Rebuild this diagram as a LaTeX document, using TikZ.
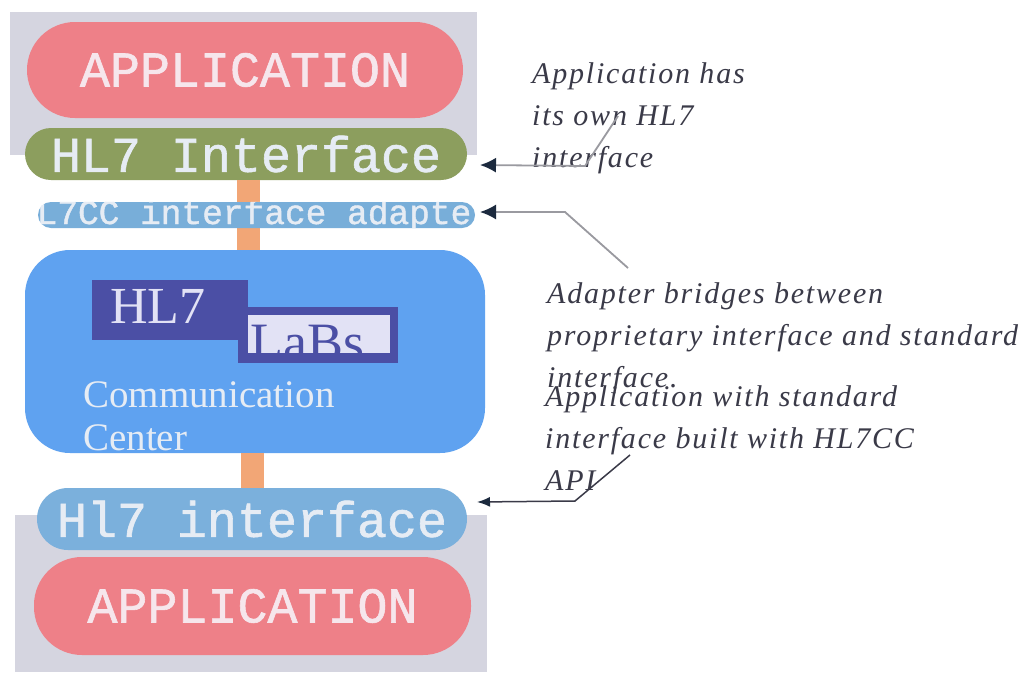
\documentclass[tikz,border=0pt]{standalone}
\usepackage{fontspec}
\setmainfont{Liberation Serif}
\setmonofont[FakeBold=1.2]{Liberation Mono}
\newfontfamily\notefont[LetterSpace=6]{Liberation Serif}
\usetikzlibrary{arrows.meta}

\definecolor{graybg}{HTML}{D5D5E0}
\definecolor{appred}{HTML}{EE8088}
\definecolor{apptxt}{HTML}{F6E6EC}
\definecolor{hlgreen}{HTML}{8C9E5E}
\definecolor{adaptblue}{HTML}{78AED9}
\definecolor{ccblue}{HTML}{5FA2F0}
\definecolor{labsdark}{HTML}{4B4FA5}
\definecolor{labslight}{HTML}{E2E2F5}
\definecolor{barorange}{HTML}{F2A676}
\definecolor{hlblue}{HTML}{7BB0DC}
\definecolor{lighttxt}{HTML}{E6ECF4}
\definecolor{notegray}{HTML}{3A3A48}
\definecolor{linegray}{HTML}{9A9AA0}
\definecolor{arrownavy}{HTML}{1C2A3E}

\begin{document}
\begin{tikzpicture}[x=1pt, y=-1pt,
    pill/.style={rounded corners=#1, inner sep=0pt},
    bigmono/.style={font=\ttfamily\fontsize{50}{50}\selectfont},
    nota/.style={font=\notefont\itshape\fontsize{30}{42}\selectfont, text=notegray,
        align=left, inner sep=0pt, anchor=base west},
    tip/.style={-{Latex[length=16pt,width=15pt,color=arrownavy]}, draw=linegray, line width=1.8pt},
    bar/.style={draw=barorange, line width=23pt}]

    % Marco de la figura
    \useasboundingbox[fill=white] (0,0) rectangle (1028,672);

    % Fondos grises de las aplicaciones
    \fill[graybg] (10,12) rectangle (477,155);
    \fill[graybg] (15,515) rectangle (487,672);

    % Aplicacion superior y su interfaz propia
    \node[pill=48pt, fill=appred, minimum width=436pt, minimum height=96pt,
        bigmono, text=apptxt] (apptop) at (245,70) {APPLICATION};
    \node[pill=26pt, fill=hlgreen, minimum width=442pt, minimum height=52pt,
        bigmono, text=lighttxt] (hltop) at (246,154) {HL7 Interface};

    % Centro de comunicacion
    \node[pill=45pt, fill=ccblue, minimum width=460pt, minimum height=203pt] (cc) at (255,351.5) {};

    % Aplicacion inferior con interfaz estandar
    \node[pill=31pt, fill=hlblue, minimum width=430pt, minimum height=62pt,
        bigmono, text=lighttxt] (hlbot) at (252,519) {Hl7 interface};
    \node[pill=48pt, fill=appred, minimum width=437pt, minimum height=98pt,
        bigmono, text=apptxt] (appbot) at (252.5,606) {APPLICATION};

    % Barras de union
    \draw[bar] ([xshift=2pt]hltop.south) -- ([xshift=2pt]hltop.south |- cc.north);
    \draw[bar] ([xshift=-3pt]cc.south) -- ([xshift=-3pt]cc.south |- hlbot.north);

    % Adaptador (texto recortado por la pastilla)
    \node[pill=13pt, fill=adaptblue, minimum width=437pt, minimum height=26pt] (adapter) at (256.5,215) {};
    \begin{scope}
        \clip[rounded corners=13pt] (adapter.north west) rectangle (adapter.south east);
        \node[font=\ttfamily\fontsize{34.5}{34.5}\selectfont, text=lighttxt,
            inner sep=0pt, anchor=base] (adaptxt) at (254,224) {HL7CC interface adapter};
    \end{scope}

    % Logo HL7 LaBs
    \node[fill=labsdark, minimum width=156pt, minimum height=60pt, anchor=north west] (hlbox) at (92,280) {};
    \node[font=\fontsize{52}{52}\selectfont, text=labslight, inner sep=0pt, anchor=base west] (hltxt) at (110,323) {HL7};
    \node[fill=labsdark, minimum width=160pt, minimum height=56pt, anchor=north west] (labsout) at (238,307) {};
    \node[fill=labslight, minimum width=142pt, minimum height=38pt, anchor=north west] (labsin) at (248,315) {};
    \begin{scope}
        \clip (labsin.north west) rectangle (labsin.south east);
        \node[font=\fontsize{54}{54}\selectfont, text=labsdark, inner sep=0pt, anchor=base west] (labstxt) at (250,360) {LaBs};
    \end{scope}
    \node[font=\fontsize{39}{43}\selectfont, text=lighttxt, align=left, inner sep=0pt,
        anchor=base west] (cctxt) at (83,450) {Communication\\Center};

    % Notas (el ancla base es la ultima linea)
    \node[nota] (note1) at (532,167) {Application has\\its own HL7\\interface};
    \node[nota] (note2) at (547,387) {Adapter bridges between\\proprietary interface and standard\\interface.};
    \node[nota] (note3) at (545,490) {Application with standard\\interface built with HL7CC\\API};

    % Flechas
    \coordinate (t1) at (480,165);
    \coordinate (t2) at (480,212);
    \coordinate (t3) at (477,502);
    \draw[tip] (618,116) -- (585,166) -- (t1);
    \draw[tip] (628,268) -- (565,212) -- (t2);
    \draw[tip, draw=notegray, line width=1.5pt, -{Latex[length=13pt,width=10pt,color=arrownavy]}]
        (630,455) -- (575,501) -- (t3);
\end{tikzpicture}
\end{document}
